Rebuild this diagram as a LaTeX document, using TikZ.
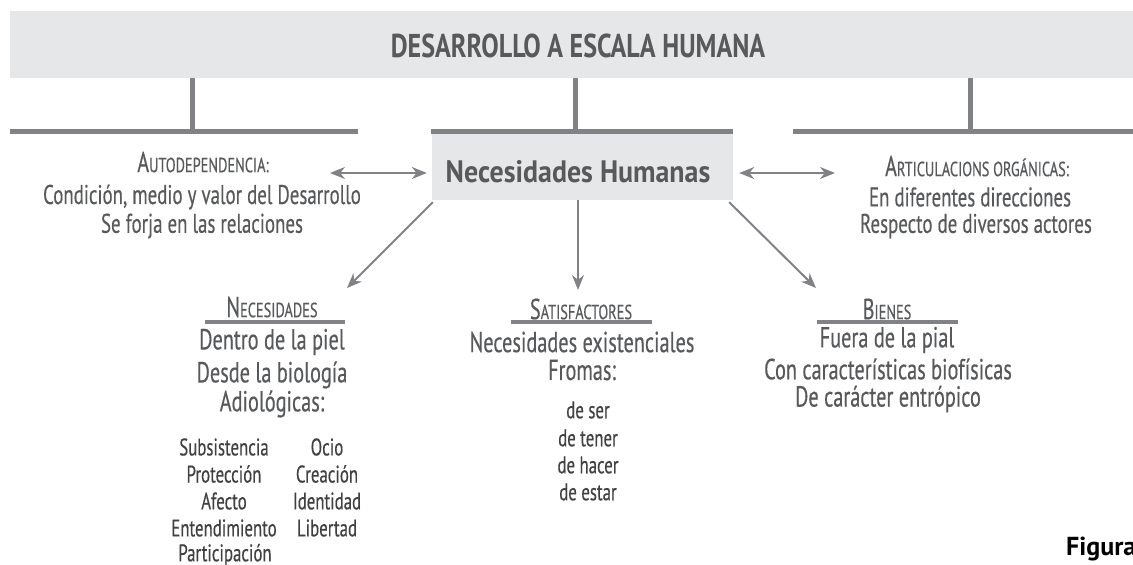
\documentclass[tikz,border=0pt]{standalone}
\usepackage{fontspec}
\setmainfont{PT Sans}[FakeStretch=0.70,FakeBold=0.4]
\newfontfamily\titlefont{PT Sans}[FakeStretch=0.79]
\newfontfamily\nhfont{PT Sans}[FakeStretch=0.90]
\newfontfamily\figfont{PT Sans}
\usetikzlibrary{arrows.meta}
\definecolor{txt}{HTML}{58595B}
\definecolor{txtd}{HTML}{414042}
\definecolor{ln}{HTML}{808285}
\definecolor{bx}{HTML}{E6E7E8}
\newcommand{\fsc}[2]{#1{\fontsize{20.5}{20.5}\selectfont #2}}
\begin{document}
\begin{tikzpicture}[x=1pt,y=-1pt,
  bar/.style={draw=ln,line width=5pt},
  arr/.style={draw=ln,line width=2pt,-{Stealth[length=15pt,width=12pt]}},
  dbl/.style={draw=ln,line width=2pt,{Stealth[length=15pt,width=12pt]}-{Stealth[length=15pt,width=12pt]}},
  base/.style={text=txt,inner sep=0pt,anchor=center},
  head/.style={base,font=\fontsize{29}{29}\selectfont},
  body/.style={base,font=\fontsize{27}{27}\selectfont},
  big/.style={base,font=\fontsize{29}{29}\selectfont},
  small/.style={base,text=txtd,font=\fontsize{24}{24}\selectfont},
  ttl/.style={base,font=\titlefont\bfseries\fontsize{33}{33}\selectfont},
  nhs/.style={base,font=\nhfont\bfseries\fontsize{31}{31}\selectfont}]
\useasboundingbox (0,0) rectangle (1133,565);
\clip (0,0) rectangle (1133,565);
% title band
\node[fill=bx,minimum width=1136pt,minimum height=67pt,inner sep=0pt] (band) at (578,44.5) {};
\node[ttl] (title) at (578,46) {DESARROLLO A ESCALA HUMANA};
% connector bars
\coordinate (v1) at (192,131.5);
\coordinate (v2) at (575,131.5);
\coordinate (v3) at (970,131.5);
\draw[bar] (band.south -| v1) -- (v1);
\draw[bar] (band.south -| v2) -- (v2);
\draw[bar] (band.south -| v3) -- (v3);
\coordinate (hl1) at (10,131.5);  \coordinate (hl2) at (358,131.5);
\coordinate (hr1) at (793,131.5); \coordinate (hr2) at (1140,131.5);
\draw[bar] (hl1) -- (hl2);
\draw[bar] (hr1) -- (hr2);
% central box
\node[fill=bx,minimum width=301pt,minimum height=66pt,inner sep=0pt] (nhbox) at (582.5,167) {};
\draw[bar] ([xshift=-1pt,yshift=2.5pt]nhbox.north west) -- ([yshift=2.5pt]nhbox.north east);
\node[nhs] (nh) at (578,172) {Necesidades Humanas};
% side blocks
\node[head] (auto1) at (203,162) {\fsc{A}{UTODEPENDENCIA:}};
\node[body] (auto2) at (202,197) {Condición, medio y valor del Desarrollo};
\node[body] (auto3) at (202,226) {Se forja en las relaciones};
\node[head] (art1) at (977,166) {\fsc{A}{RTICULACIONS ORGÁNICAS:}};
\node[body] (art2) at (970,197) {En diferentes direcciones};
\node[body] (art3) at (976,226) {Respecto de diversos actores};
% double arrows
\coordinate (la) at (330,173);
\coordinate (ra) at (835,173);
\draw[dbl] (la) -- ([xshift=-5pt]nhbox.west |- la);
\draw[dbl] ([xshift=6pt]nhbox.east |- ra) -- (ra);
% down arrows
\coordinate (tipN) at (347,288);
\coordinate (tipS) at (578,290);
\coordinate (tipB) at (816,288);
\draw[arr] ([xshift=1pt,yshift=-2pt]nhbox.south west) -- (tipN);
\draw[arr] (nhbox.south -| tipS) -- (tipS);
\draw[arr] ([xshift=-4pt,yshift=-2pt]nhbox.south east) -- (tipB);
% Necesidades
\node[head] (nec) at (272,307) {\fsc{N}{ECESIDADES}};
\draw[draw=ln,line width=4pt] (205,322) -- (345,322);
\node[big] (n1) at (272,342) {Dentro de la piel};
\node[big] (n2) at (272,375) {Desde la biología};
\node[big] (n3) at (272,404) {Adiológicas:};
\node[small] (c1) at (224,447) {Subsistencia};
\node[small] (c2) at (224,474) {Protección};
\node[small] (c3) at (224,501) {Afecto};
\node[small] (c4) at (224,528) {Entendimiento};
\node[small] (c5) at (225,555) {Participación};
\node[small] (d1) at (327,447) {Ocio};
\node[small] (d2) at (327,474) {Creación};
\node[small] (d3) at (327,501) {Identidad};
\node[small] (d4) at (327,528) {Libertad};
% Satisfactores
\node[head] (sat) at (581,309) {\fsc{S}{ATISFACTORES}};
\draw[draw=ln,line width=4pt] (511,322) -- (652,322);
\node[big] (s1) at (582,342) {Necesidades existenciales};
\node[big] (s2) at (582,370) {Fromas:};
\node[small] (s3) at (588,410) {de ser};
\node[small] (s4) at (588,438) {de tener};
\node[small] (s5) at (588,465) {de hacer};
\node[small] (s6) at (588,492) {de estar};
% Bienes
\node[head] (bie) at (887,309) {\fsc{B}{IENES}};
\draw[draw=ln,line width=4pt] (817,322) -- (958,322);
\node[big] (b1) at (887,340) {Fuera de la pial};
\node[big] (b2) at (888,369) {Con características biofísicas};
\node[big] (b3) at (888,399) {De carácter entrópico};
% Figura
\node[anchor=base west,inner sep=0pt,text=black,font=\figfont\bfseries\fontsize{26}{26}\selectfont] (fig) at (1066,555) {Figura};
\end{tikzpicture}
\end{document}
